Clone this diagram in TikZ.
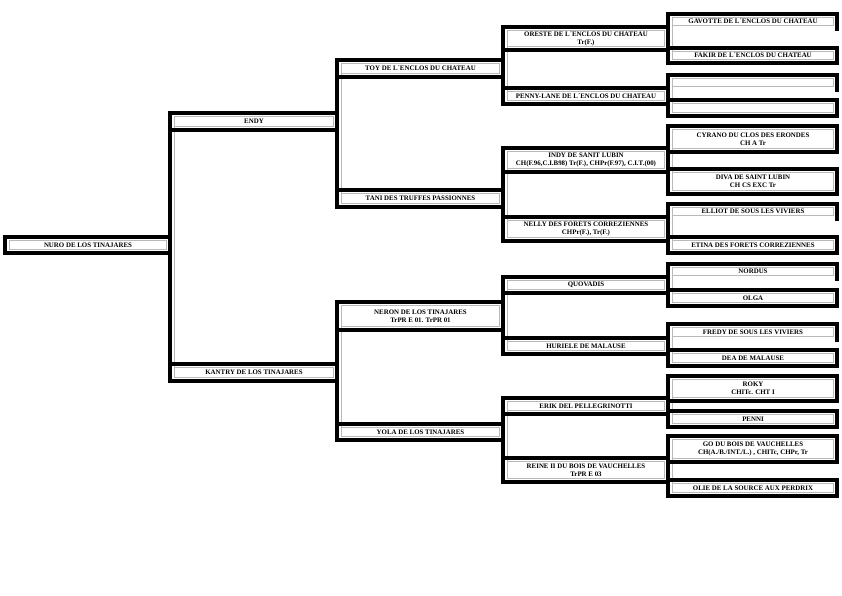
\documentclass[tikz,border=0pt]{standalone}
\usepackage{fontspec}
\setmainfont{Liberation Serif}
\usetikzlibrary{backgrounds}

\tikzset{
  frame/.style={line width=3.2pt, line cap=rect},
  inner/.style={draw=gray!55, line width=0.6pt},
  animal/.style={inner, inner sep=0pt, align=center,
    font=\fontsize{6.9}{8}\selectfont\bfseries},
}

% #1 name, #2 left x, #3 right x, #4 top y, #5 bottom y, #6 text
\newcommand{\sirebox}[6]{%
  \coordinate (#1-tl) at (#2,#4);
  \coordinate (#1-tr) at (#3,#4);
  \coordinate (#1-bl) at (#2,#5);
  \coordinate (#1-br) at (#3,#5);
  \node[animal, minimum width={(#3-#2-8)*1pt}, minimum height={(#5-#4-7.5)*1pt}]
    (#1) at ({(#2+#3+1)/2},{(#4+#5)/2}) {#6};
  \draw[frame] (#1-tl) -- (#1-tr);
}
\newcommand{\pedbox}[6]{%
  \sirebox{#1}{#2}{#3}{#4}{#5}{#6}
  \draw[frame] (#1-bl) -- (#1-br);
}

\begin{document}
\begin{tikzpicture}[x=1pt, y=-1pt]
    \useasboundingbox (0,0) rectangle (842,596);

    % Generation 0
    \pedbox{nuro}{5}{170}{237}{253}{NURO DE LOS TINAJARES}
    \draw[frame] (nuro-tl) -- (nuro-bl);

    % Generation 1
    \pedbox{endy}{170}{337}{113}{130}{ENDY}
    \pedbox{kantry}{170}{337}{364}{381}{KANTRY DE LOS TINAJARES}

    % Generation 2
    \pedbox{toy}{337}{503}{60}{77}{TOY DE L´ENCLOS DU CHATEAU}
    \pedbox{tani}{337}{503}{190}{207}{TANI DES TRUFFES PASSIONNES}
    \pedbox{neron}{337}{503}{302}{330}{NERON DE LOS TINAJARES\\TrPR E 01. TrPR 01}
    \pedbox{yola}{337}{503}{424}{440}{YOLA DE LOS TINAJARES}

    % Generation 3
    \pedbox{oreste}{503}{668}{27}{50}{ORESTE DE L´ENCLOS DU CHATEAU\\Tr(F.)}
    \pedbox{penny}{503}{668}{88}{104}{PENNY-LANE DE L´ENCLOS DU CHATEAU}
    \pedbox{indy}{503}{668}{148}{172}{INDY DE SANIT LUBIN\\CH(F.96,C.I.B98) Tr(F.), CHPr(F.97), C.I.T.(00)}
    \pedbox{nelly}{503}{668}{217}{241}{NELLY DES FORETS CORREZIENNES\\CHPr(F.), Tr(F.)}
    \pedbox{quovadis}{503}{668}{277}{293}{QUOVADIS}
    \pedbox{huriele}{503}{668}{338}{354}{HURIELE DE MALAUSE}
    \pedbox{erik}{503}{668}{398}{414}{ERIK DEL PELLEGRINOTTI}
    \pedbox{reine}{503}{668}{458}{482}{REINE II DU BOIS DE VAUCHELLES\\TrPR E 03}

    % Generation 4
    \sirebox{gavotte}{668}{837}{14}{29}{GAVOTTE DE L´ENCLOS DU CHATEAU}
    \pedbox{fakir}{668}{837}{48}{63}{FAKIR DE L´ENCLOS DU CHATEAU}
    \sirebox{pennysire}{668}{837}{75}{90}{}
    \pedbox{pennydam}{668}{837}{100}{116}{}
    \pedbox{cyrano}{668}{837}{126}{152}{CYRANO DU CLOS DES ERONDES\\CH A Tr}
    \pedbox{diva}{668}{837}{169}{194}{DIVA DE SAINT LUBIN\\CH CS EXC Tr}
    \sirebox{elliot}{668}{837}{204}{219}{ELLIOT DE SOUS LES VIVIERS}
    \pedbox{etina}{668}{837}{237}{253}{ETINA DES FORETS CORREZIENNES}
    \sirebox{nordus}{668}{837}{264}{279}{NORDUS}
    \pedbox{olga}{668}{837}{290}{306}{OLGA}
    \sirebox{fredy}{668}{837}{324}{340}{FREDY DE SOUS LES VIVIERS}
    \pedbox{dea}{668}{837}{350}{366}{DEA DE MALAUSE}
    \pedbox{roky}{668}{837}{376}{401}{ROKY\\CHITc. CHT I}
    \pedbox{penni}{668}{837}{411}{427}{PENNI}
    \pedbox{go}{668}{837}{436}{462}{GO DU BOIS DE VAUCHELLES\\CH(A./B./INT./L.) , CHITc, CHPr, Tr}
    \pedbox{olie}{668}{837}{480}{496}{OLIE DE LA SOURCE AUX PERDRIX}
    \foreach \b in {gavotte,fakir,pennysire,pennydam,cyrano,diva,elliot,etina,
                    nordus,olga,fredy,dea,roky,penni,go,olie}
      \draw[frame] (\b-tr) -- (\b-br);

    % Brackets from sire to dam
    \foreach \s/\d in {endy/kantry, toy/tani, neron/yola,
                       oreste/penny, indy/nelly, quovadis/huriele, erik/reine,
                       gavotte/fakir, pennysire/pennydam, cyrano/diva, elliot/etina,
                       nordus/olga, fredy/dea, roky/penni, go/olie} {
      \begin{pgfonlayer}{background}
        \draw[inner] (\s.south west) -- (\d.north west);
      \end{pgfonlayer}
      \draw[frame] (\s-tl) -- (\d-bl);
    }

\end{tikzpicture}
\end{document}
